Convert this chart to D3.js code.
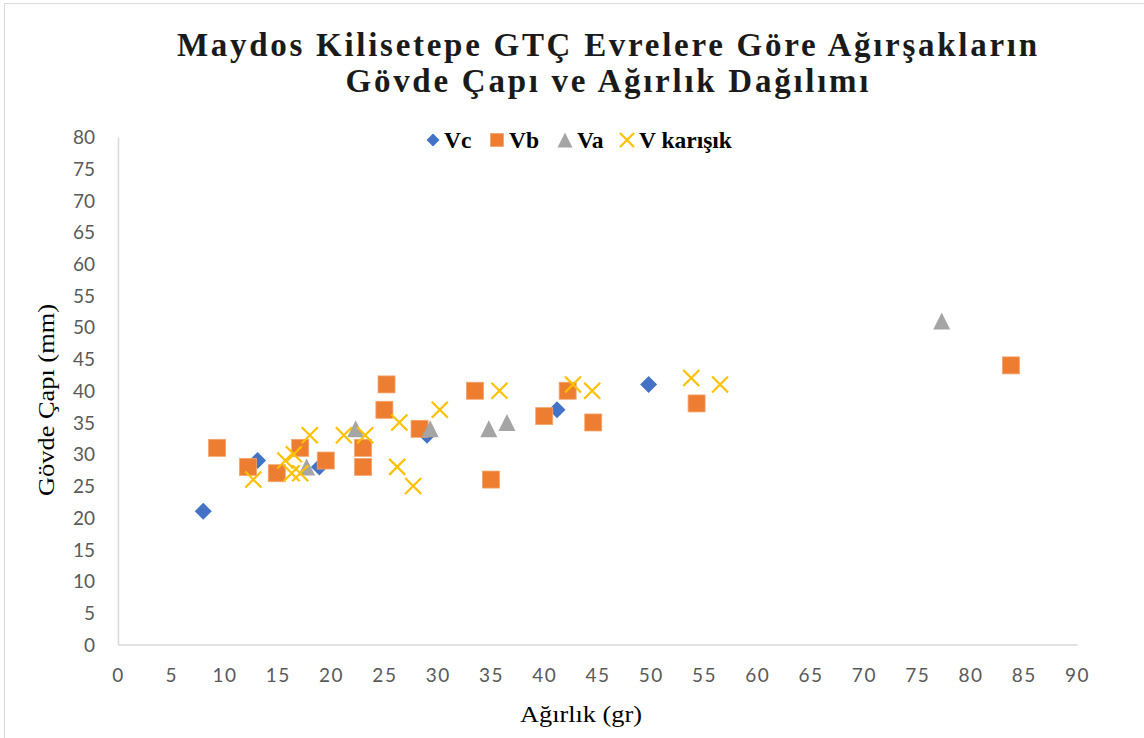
<!DOCTYPE html>
<html>
<head>
<meta charset="utf-8">
<script src="https://cdn.jsdelivr.net/npm/d3@7"></script>
<style>
  html, body { margin: 0; padding: 0; background: #fff; }
  svg { display: block; }
</style>
</head>
<body>
<svg id="chart" width="1144" height="738"></svg>
<script>
// ---- data (weight g, diameter mm) ----
const seriesNames = ["Vc", "Vb", "Va", "V karışık"];
const vcData = [[8,21],[13.1,29],[18.9,28],[29,33],[41.2,37],[49.8,41]];
const vbData = [[9.3,31],[12.2,28],[14.9,27],[17.1,31],[19.5,29],[23,31],[23,28],[25,37],[25.2,41],[28.3,34],[33.5,40],[35,26],[40,36],[42.2,40],[44.6,35],[54.3,38],[83.8,44]];
const vaData = [[17.7,28],[22.3,34],[29.3,34],[34.8,34],[36.5,35],[77.3,51]];
const vkData = [[12.7,26],[15.7,29],[16.5,30],[16.3,27],[17.1,27],[18,33],[21.2,33],[23.2,33],[26.4,35],[26.2,28],[27.7,25],[30.2,37],[35.8,40],[42.7,41],[44.5,40],[53.8,42],[56.5,41]];
const xTicks = d3.range(0, 91, 5);
const yTicks = d3.range(0, 81, 5);
const titleLines = ["Maydos Kilisetepe GTÇ Evrelere Göre Ağırşakların", "Gövde Çapı ve Ağırlık Dağılımı"];
const xTitle = "Ağırlık (gr)";
const yTitle = "Gövde Çapı (mm)";

const colors = ["#4472C4", "#ED7D31", "#A5A5A5", "#FFC000"];

const svg = d3.select("#chart");

// chart border
svg.append("rect").attr("x", 4.5).attr("y", 3.5).attr("width", 1160).attr("height", 760)
  .attr("fill", "none").attr("stroke", "#d9d9d9").attr("stroke-width", 1);

const x = d3.scaleLinear().domain([0, 90]).range([118, 1077]);
const y = d3.scaleLinear().domain([0, 80]).range([644.5, 137]);

// axes
const xAxis = svg.append("g").attr("transform", `translate(0,${y(0)})`)
  .call(d3.axisBottom(x).tickValues(xTicks).tickSize(0).tickPadding(22));
const yAxis = svg.append("g").attr("transform", `translate(${x(0)},0)`)
  .call(d3.axisLeft(y).tickValues(yTicks).tickSize(0).tickPadding(22));
[xAxis, yAxis].forEach(g => {
  g.select(".domain").attr("stroke", "#d9d9d9").attr("stroke-width", 1.5);
  g.selectAll("text").attr("font-family", "Lato, 'Open Sans', sans-serif")
    .attr("font-size", 19).attr("fill", "#595959");
});
xAxis.selectAll("text").attr("dy", "0.35em").attr("y", 31).attr("letter-spacing", 1.5);
yAxis.selectAll("text").attr("dy", "0.35em").attr("x", -23);

// markers
const layer = svg.append("g");
function drawDiamond(g, cx, cy, s, c) {
  g.append("path").attr("d", `M${cx},${cy - s/2}L${cx + s/2},${cy}L${cx},${cy + s/2}L${cx - s/2},${cy}Z`).attr("fill", c);
}
function drawSquare(g, cx, cy, s, c) {
  g.append("rect").attr("x", cx - s/2).attr("y", cy - s/2).attr("width", s).attr("height", s)
    .attr("fill", c).attr("stroke", "#f3a46e").attr("stroke-width", 0.8);
}
function drawTriangle(g, cx, cy, s, c) {
  g.append("path").attr("d", `M${cx},${cy - s/2}L${cx + s/2},${cy + s/2}L${cx - s/2},${cy + s/2}Z`).attr("fill", c);
}
function drawX(g, cx, cy, s, c) {
  g.append("path").attr("d", `M${cx - s/2},${cy - s/2}L${cx + s/2},${cy + s/2}M${cx + s/2},${cy - s/2}L${cx - s/2},${cy + s/2}`)
    .attr("stroke", c).attr("stroke-width", 2.2).attr("fill", "none");
}
const drawers = [drawDiamond, drawSquare, drawTriangle, drawX];
const allData = [vcData, vbData, vaData, vkData];
const sizes = [17, 17, 17, 16];
allData.forEach((data, i) => {
  const g = layer.append("g");
  data.forEach(d => drawers[i](g, x(d[0]), y(d[1]), sizes[i], colors[i]));
});

// legend
const legendItems = [
  {mx: 433, tx: 444},
  {mx: 497, tx: 509},
  {mx: 565, tx: 577},
  {mx: 627, tx: 639}
];
const lg = svg.append("g");
const legSizes = [13, 13, 15, 14];
legendItems.forEach((it, i) => {
  drawers[i](lg, it.mx, 140, legSizes[i], colors[i]);
  lg.append("text").attr("x", it.tx).attr("y", 140).attr("dy", "0.35em")
    .attr("font-family", "'Liberation Serif', 'Times New Roman', serif").attr("font-weight", "bold")
    .attr("font-size", 23.5).attr("fill", "#000").text(seriesNames[i]);
});

// title
const titleSpecs = [{y: 56, len: 860}, {y: 92, len: 523}];
titleLines.forEach((t, i) => {
  svg.append("text").attr("x", 607).attr("y", titleSpecs[i].y).attr("text-anchor", "middle")
    .attr("font-family", "'Liberation Serif', 'Times New Roman', serif").attr("font-weight", "bold")
    .attr("font-size", 33).attr("fill", "#1a1a1a")
    .attr("textLength", titleSpecs[i].len).attr("lengthAdjust", "spacing").text(t);
});

// axis titles
svg.append("text").attr("x", 581).attr("y", 722).attr("text-anchor", "middle")
  .attr("font-family", "'Liberation Serif', 'Times New Roman', serif").attr("font-size", 24)
  .attr("textLength", 122).attr("lengthAdjust", "spacingAndGlyphs")
  .attr("fill", "#000").text(xTitle);
svg.append("text").attr("transform", "translate(54,400) rotate(-90)").attr("text-anchor", "middle")
  .attr("font-family", "'Liberation Serif', 'Times New Roman', serif").attr("font-size", 24)
  .attr("textLength", 192).attr("lengthAdjust", "spacingAndGlyphs")
  .attr("fill", "#000").text(yTitle);
</script>
</body>
</html>
